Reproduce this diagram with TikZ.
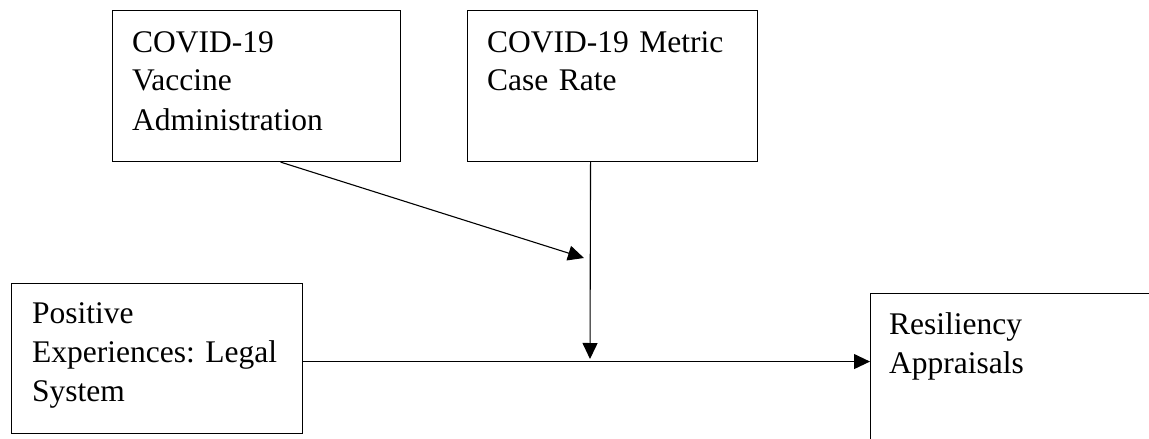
\documentclass[tikz,border=0pt]{standalone}
\usepackage{fontspec}
\setmainfont{Liberation Serif}
\usetikzlibrary{arrows.meta}
\frenchspacing
\begin{document}
\begin{tikzpicture}[x=1pt,y=-1pt,
  boxstyle/.style={draw, line width=1.1pt, rectangle, inner sep=0pt, anchor=north west},
  labelstyle/.style={anchor=base west, inner sep=0pt, text width=#1, align=left,
    font=\fontsize{31.5}{39}\selectfont},
  arrowline/.style={line width=1.1pt, -{Triangle[length=16pt,width=15pt]}}]
\clip (0,0) rectangle (1149,439);
\fill[white] (0,0) rectangle (1149,439);
% boxes
\node[boxstyle, minimum width=288pt, minimum height=151pt] (vaccine) at (112,10) {};
\node[boxstyle, minimum width=290pt, minimum height=151pt] (metric) at (467,10) {};
\node[boxstyle, minimum width=291pt, minimum height=150pt] (positive) at (11,283) {};
\node[boxstyle, minimum width=300pt, minimum height=180pt] (resil) at (870,293) {};
% labels
\node[labelstyle=300pt] (tvaccine) at (132,52) {COVID-19\\Vaccine\\Administration};
\node[labelstyle=300pt] (tmetric) at (487,52) {COVID-19 Metric\\Case Rate};
\node[labelstyle=300pt] (tpositive) at (32,323) {Positive\\Experiences: Legal\\System};
\node[labelstyle=250pt] (tresil) at (889,334) {Resiliency\\Appraisals};
% connectors
\coordinate (diagend) at (584,258);
\coordinate (junction) at (590,359);
\draw[arrowline] ([xshift=24pt]vaccine.south) -- (diagend);
\draw[arrowline] ([xshift=-22pt]metric.south) -- (junction);
\draw[arrowline] ([yshift=-3pt]positive.east) -- ([yshift=-3pt]positive.east -| resil.west);
\end{tikzpicture}
\end{document}
